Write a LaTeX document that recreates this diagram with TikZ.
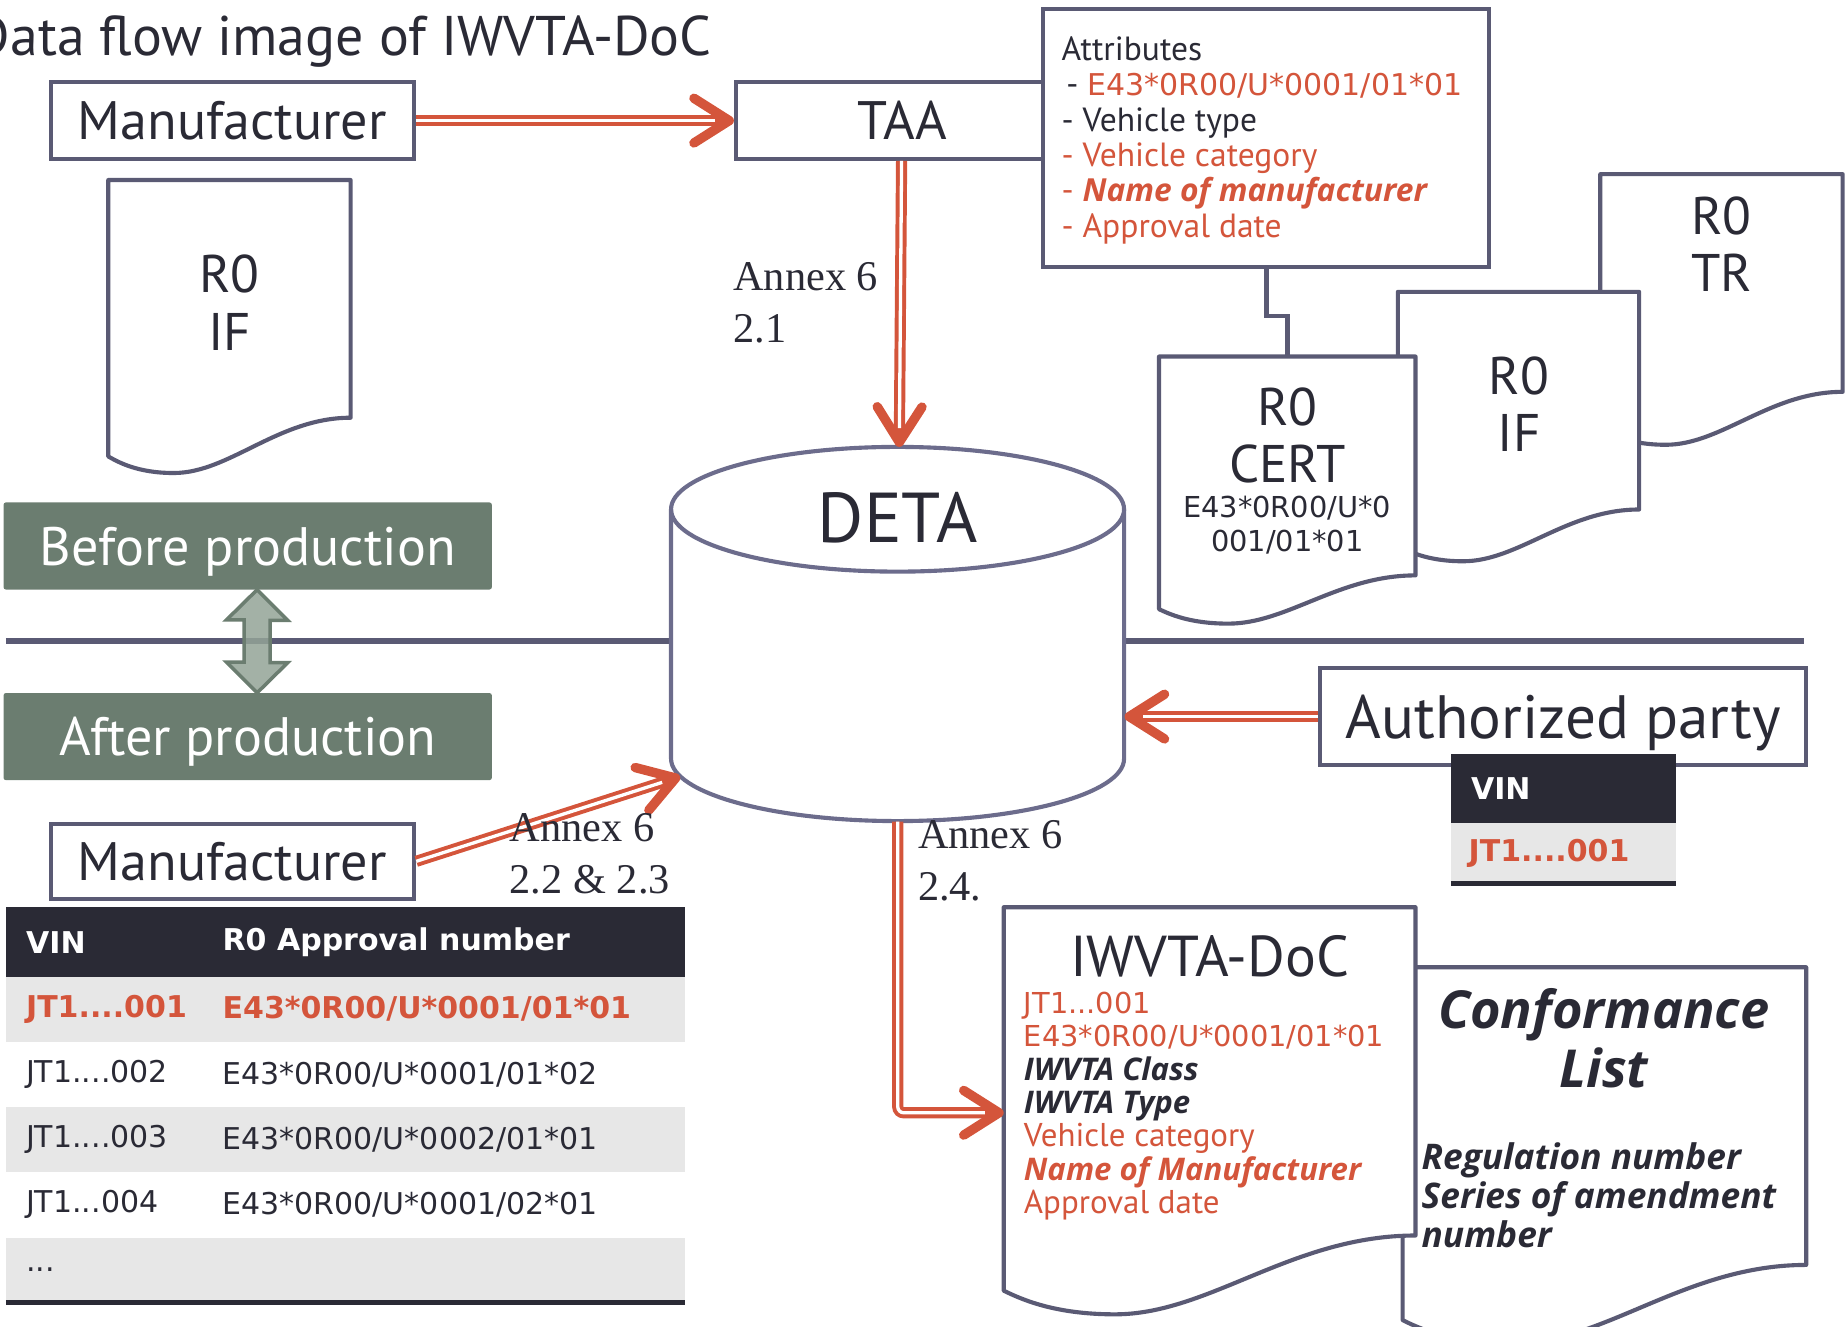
\documentclass[tikz,border=0pt]{standalone}
\usepackage{fontspec}
\setmainfont{PT Sans}
\newfontfamily\codefont{DejaVu Sans}
\newfontfamily\emfont{Open Sans}
\newfontfamily\annexfont{Liberation Serif}
\usetikzlibrary{positioning,calc,arrows.meta}

\definecolor{papRed}{HTML}{D4553B}
\definecolor{papInk}{HTML}{2A2A35}
\definecolor{papFrame}{HTML}{5A5A74}
\definecolor{papDetaLine}{HTML}{6C6C8C}
\definecolor{papGreen}{HTML}{6B7D70}
\definecolor{papGreenLight}{HTML}{93A397}
\definecolor{papRowGray}{HTML}{E7E7E7}

\newcommand{\papCode}[2][25.5]{{\codefont\fontsize{#1}{30}\selectfont #2}}
\newcommand{\papEm}[2][27]{{\emfont\bfseries\itshape\fontsize{#1}{30}\selectfont #2}}

\tikzset{
   papTitle/.style = {
         anchor = base east,
         inner sep = 0pt,
         text = papInk,
         font = \fontsize{47.5}{56}\selectfont,
      },
   papBox/.style = {
         rectangle,
         draw = papFrame,
         fill = white,
         line width = 3.5pt,
         inner sep = 0pt,
         text = papInk,
         font = \fontsize{46}{54}\selectfont,
      },
   papList/.style = {
         inner sep = 0pt,
         align = left,
         text = papInk,
         font = \fontsize{28.5}{30}\selectfont,
      },
   papDocText/.style = {
         inner sep = 0pt,
         align = center,
         text = papInk,
         font = \fontsize{45}{49}\selectfont,
      },
   papDocSmall/.style = {
         inner sep = 0pt,
         align = center,
         text = papInk,
         font = \codefont\fontsize{24.5}{29}\selectfont,
      },
   papConfText/.style = {
         inner sep = 0pt,
         align = center,
         text = papInk,
         font = \emfont\bfseries\itshape\fontsize{44.5}{50}\selectfont,
      },
   papConfList/.style = {
         inner sep = 0pt,
         align = left,
         text = papInk,
         font = \emfont\bfseries\itshape\fontsize{30}{33}\selectfont,
      },
   papDetaText/.style = {
         inner sep = 0pt,
         text = papInk,
         font = \fontsize{60}{70}\selectfont,
      },
   papPhase/.style = {
         rectangle,
         fill = papGreen,
         rounded corners = 2pt,
         inner sep = 0pt,
         minimum width = 415,
         minimum height = 74,
         text depth = 0pt,
         text = white,
         font = \fontsize{46}{52}\selectfont,
      },
   papPhaseArrow/.style = {
         draw = papGreen,
         fill = papGreenLight,
         fill opacity = 0.85,
         line width = 3pt,
      },
   papDivide/.style = {
         draw = papFrame,
         line width = 5pt,
      },
   papDocLine/.style = {
         draw = papFrame,
         fill = white,
         line width = 3.5pt,
         line join = round,
      },
   papDeta/.style = {
         draw = papDetaLine,
         fill = white,
         line width = 3.5pt,
      },
   papAnnex/.style = {
         anchor = north west,
         inner sep = 0pt,
         align = left,
         text = papInk,
         font = \annexfont\fontsize{36}{44}\selectfont,
      },
   papHead/.style = {
         rectangle,
         fill = papInk,
         anchor = north west,
         inner sep = 0pt,
      },
   papRow/.style = {
         rectangle,
         fill = white,
         anchor = north west,
         inner sep = 0pt,
         minimum width = 577,
         minimum height = 55,
      },
   papHeadText/.style = {
         anchor = west,
         inner sep = 0pt,
         text = white,
         font = \codefont\bfseries\fontsize{25.5}{30}\selectfont,
      },
   papCell/.style = {
         anchor = west,
         inner sep = 0pt,
         text = papInk,
         font = \codefont\fontsize{25.5}{30}\selectfont,
      },
   papCellHot/.style = {
         papCell,
         text = papRed,
         font = \codefont\bfseries\fontsize{25.5}{30}\selectfont,
      },
   papRule/.style = {
         draw = papInk,
         line width = 4pt,
      },
   papLink/.style = {
         draw = papFrame,
         line width = 4pt,
      },
   papLine/.style = {
         draw = papRed,
         line width = 9.5pt,
         -{Straight Barb[length=30pt,width=38pt,line width=8pt,round]},
         postaction = {draw=white, line width=2.8pt, -, shorten >=16pt},
      },
}

% document sheet with a wavy bottom: name, x left, y top, x right, y right bottom, wave depth
\newcommand{\papDoc}[6]{%
   \path [papDocLine] (#2,#3) -- (#4,#3) -- (#4,#5)
      .. controls ({#4-0.3*(#4-#2)},#5) and ({#2+0.5*(#4-#2)},{#5+#6})
      .. ({#2+0.27*(#4-#2)},{#5+#6})
      .. controls ({#2+0.12*(#4-#2)},{#5+#6}) and ({#2+0.04*(#4-#2)},{#5+0.8*#6})
      .. (#2,{#5+0.7*#6}) -- cycle;
   \node [inner sep=0pt, minimum width={#4-#2}, minimum height={#5-#3}, anchor=north west] (#1) at (#2,#3) {};
}

\begin{document}
\begin{tikzpicture}[x=1pt, y=-1pt]
\useasboundingbox (0,0) rectangle (1568,1127);
\clip (0,0) rectangle (1568,1127);

% Place nodes
\node [papTitle] (title) at (605,47) {Data flow image of IWVTA-DoC};

\node [papBox, minimum width=309, minimum height=65] (manu1) at (197.5,102.5) {Manufacturer};
\node [papBox, minimum width=282, minimum height=65, right=270pt of manu1] (taa) {TAA};
\node [papBox, minimum width=379, minimum height=219, anchor=north west] (attr) at (885,6) {};
\node [papList, anchor=north west] (attr-list) at (902,31)
   {Attributes\\
    \hspace*{4pt}- \textcolor{papRed}{\papCode{E43*0R00/U*0001/01*01}}\\
    - Vehicle type\\
    \textcolor{papRed}{- Vehicle category}\\
    \textcolor{papRed}{- \papEm{Name of manufacturer}}\\
    \textcolor{papRed}{- Approval date}};

% Place documents
\papDoc{if-left}{92}{153}{298}{355}{47}
\node [papDocText] (if-left-text) at (195,257) {R0\\IF};

\papDoc{tr}{1360}{148}{1566}{333}{45}
\node [papDocText] (tr-text) at (1463,207.5) {R0\\TR};
\papDoc{if-right}{1188}{248}{1393}{433}{44}
\node [papDocText] (if-right-text) at (1291,343.5) {R0\\IF};
\papDoc{cert}{985}{303}{1203}{489}{41}
\node [papDocText] (cert-text) at (1094,370) {R0\\CERT};
\node [papDocSmall] (cert-number) at (1094,446.5) {E43*0R00/U*0\\001/01*01};

% Before / after production
\draw [papDivide] (5,545) -- (1533,545);
\node [papPhase] (before) at (210.5,464) {Before production};
\node [papPhase] (after) at (210.5,626) {After production};
\draw [papPhaseArrow] ([xshift=8pt]before.south) -- ++(26,26) -- ++(-15,0) -- ++(0,36) -- ++(15,0)
   -- ([xshift=8pt]after.north) -- ++(-26,-26) -- ++(15,0) -- ++(0,-36) -- ++(-15,0) -- cycle;

% DETA
\node [minimum width=385, minimum height=318, inner sep=0pt] (deta) at (763,539) {};
\path [papDeta] ([yshift=-53pt]deta.north west) -- ++(0,212)
   arc [start angle=180, end angle=0, x radius=192.5, y radius=53] -- ++(0,-212)
   arc [start angle=0, end angle=-180, x radius=192.5, y radius=53] -- cycle;
\draw [papDeta, fill=none] ([yshift=-53pt]deta.north west)
   arc [start angle=180, end angle=0, x radius=192.5, y radius=53];
\node [papDetaText] (deta-label) at (763,440) {DETA};
\coordinate (deta-in) at (578,660);

% Manufacturer after production and its table
\node [papBox, minimum width=309, minimum height=64] (manu2) at (197.5,732) {Manufacturer};

\node [papHead, minimum width=577, minimum height=59] (vin-head) at (5,771) {};
\node [papHeadText] (vin-head-vin) at ([xshift=17pt]vin-head.west) {VIN};
\node [papHeadText] (vin-head-number) at ([xshift=184pt]vin-head.west) {R0 Approval number};
\node [papRow, fill=papRowGray] (row1) at (5,830) {};
\node [papCellHot] (row1-vin) at ([xshift=17pt]row1.west) {JT1....001};
\node [papCellHot] (row1-number) at ([xshift=184pt]row1.west) {E43*0R00/U*0001/01*01};
\node [papRow, below=0pt of row1] (row2) {};
\node [papCell] (row2-vin) at ([xshift=17pt]row2.west) {JT1....002};
\node [papCell] (row2-number) at ([xshift=184pt]row2.west) {E43*0R00/U*0001/01*02};
\node [papRow, fill=papRowGray, below=0pt of row2] (row3) {};
\node [papCell] (row3-vin) at ([xshift=17pt]row3.west) {JT1....003};
\node [papCell] (row3-number) at ([xshift=184pt]row3.west) {E43*0R00/U*0002/01*01};
\node [papRow, below=0pt of row3] (row4) {};
\node [papCell] (row4-vin) at ([xshift=17pt]row4.west) {JT1...004};
\node [papCell] (row4-number) at ([xshift=184pt]row4.west) {E43*0R00/U*0001/02*01};
\node [papRow, fill=papRowGray, below=0pt of row4] (row5) {};
\node [papCell] (row5-vin) at ([xshift=17pt]row5.west) {...};
\draw [papRule] (row5.south west) -- (row5.south east);

% Authorized party
\node [papBox, minimum width=413, minimum height=82, text depth=0pt, font=\fontsize{52}{60}\selectfont] (auth) at (1328.5,609) {Authorized party};
\node [papHead, minimum width=191, minimum height=58] (auth-head) at (1233,641) {};
\node [papHeadText] (auth-head-vin) at ([xshift=17pt]auth-head.west) {VIN};
\node [papRow, fill=papRowGray, minimum width=191, minimum height=51, below=0pt of auth-head] (auth-row) {};
\node [papCellHot] (auth-row-vin) at ([xshift=15pt]auth-row.west) {JT1....001};
\draw [papRule] (auth-row.south west) -- (auth-row.south east);

% IWVTA-DoC and conformance list
\papDoc{conf}{1192}{822}{1535}{1075}{67}
\node [papConfText] (conf-title) at (1363,882) {Conformance\\List};
\node [papConfList, anchor=north west] (conf-list) at (1208,971) {Regulation number\\Series of amendment\\number};
\papDoc{iwdoc}{853}{771}{1203}{1050}{67}
\node [papDocText, font=\fontsize{49}{54}\selectfont] (iwdoc-title) at (1028,813) {IWVTA-DoC};
\node [papList, anchor=north west, font=\fontsize{28}{28.3}\selectfont] (iwdoc-list) at (870,843)
   {\textcolor{papRed}{\papCode[24.5]{JT1...001}}\\
    \textcolor{papRed}{\papCode[24.5]{E43*0R00/U*0001/01*01}}\\
    \papEm[26.5]{IWVTA Class}\\
    \papEm[26.5]{IWVTA Type}\\
    \textcolor{papRed}{Vehicle category}\\
    \textcolor{papRed}{\papEm[26.5]{Name of Manufacturer}}\\
    \textcolor{papRed}{Approval date}};

% Draw edges
\path [papLine] (manu1) -- (taa);
\path [papLine] (taa) -- (deta);
\path [papLine] (manu2.east) -- (deta-in);
\path [papLine] (auth) -- (auth -| deta.east);
\path [papLine, rounded corners=5pt] (deta.south) |- ([yshift=-35pt]iwdoc.west);
\draw [papLink] (attr.south) -- ++(0,40) -| (cert.north);

% Annex labels
\node [papAnnex] (annex-21) at (623,223) {Annex 6\\2.1};
\node [papAnnex] (annex-223) at (433,691) {Annex 6\\2.2 \& 2.3};
\node [papAnnex] (annex-24) at (780,697) {Annex 6\\2.4.};

\end{tikzpicture}
\end{document}
